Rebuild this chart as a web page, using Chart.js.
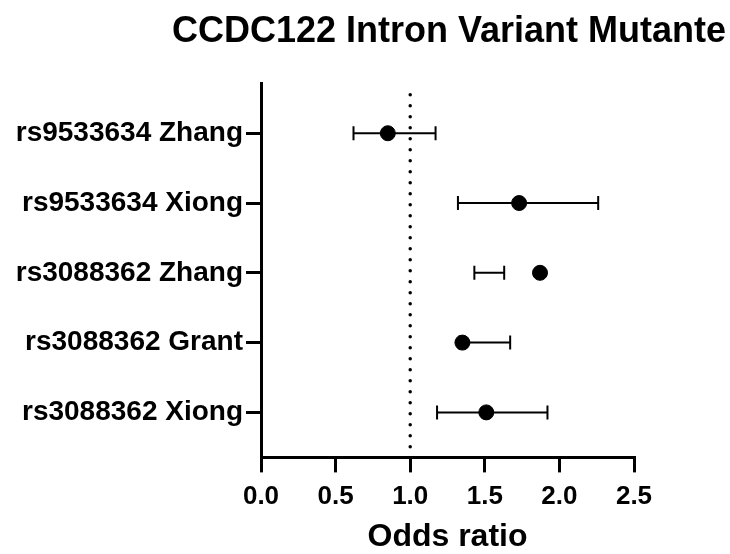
<!DOCTYPE html>
<html>
<head>
<meta charset="utf-8">
<script src="https://cdn.jsdelivr.net/npm/chart.js@4/dist/chart.umd.min.js"></script>
<style>
  body { margin: 0; background: #fff; }
</style>
</head>
<body>
<canvas id="forest_plot" width="730" height="554"></canvas>
<script>
// values
const studies = ["rs9533634 Zhang", "rs9533634 Xiong", "rs3088362 Zhang", "rs3088362 Grant", "rs3088362 Xiong"];
const odds_ratio = [0.85, 1.73, 1.87, 1.35, 1.51];
const ci_low = [0.62, 1.32, 1.43, 1.33, 1.18];
const ci_high = [1.17, 2.26, 1.63, 1.67, 1.92];
const x_ticks = [0.0, 0.5, 1.0, 1.5, 2.0, 2.5];
const ref_line = 1.0;

const font_name = "'Liberation Sans', Arial, sans-serif";

// one small line per row for the whiskers, caps are rotated line points
const whiskers = studies.map((s, i) => ({
    type: "line",
    data: [{x: ci_low[i], y: i}, {x: ci_high[i], y: i}],
    borderColor: "#000",
    borderWidth: 2,
    pointStyle: "line",
    rotation: 90,
    pointRadius: 7,
    pointBorderWidth: 2,
    pointBorderColor: "#000",
}));

const forest_plot = document.getElementById('forest_plot');
const forest_plot1 = new Chart(forest_plot, {
    data: {
        datasets: [{
            type: "line",
            data: [{x: ref_line, y: -0.55}, {x: ref_line, y: 4.645}],
            borderColor: "#000",
            borderWidth: 3.5,
            borderDash: [0, 11],
            borderCapStyle: "round",
            pointRadius: 0,
        },
        ...whiskers,
        {
            type: "scatter",
            data: odds_ratio.map((v, i) => ({x: v, y: i})),
            backgroundColor: "#000",
            borderColor: "#000",
            pointRadius: 7.5,
        }],
    },
    options: {
        responsive: false,
        animation: false,
        layout: { padding: { left: 0, right: 4, top: 0, bottom: 0 } },
        plugins: {
            legend: { display: false },
            tooltip: { enabled: false },
            title: {
                display: true,
                text: "CCDC122 Intron Variant Mutante",
                align: "end",
                color: "#000",
                font: { family: font_name, size: 36, weight: "bold", lineHeight: 1.2 },
                padding: { top: 10, bottom: 30 },
            },
        },
        scales: {
            x: {
                type: "linear",
                min: 0,
                max: 2.5,
                afterBuildTicks: (scale) => { scale.ticks = x_ticks.map(v => ({value: v})); },
                ticks: {
                    color: "#000",
                    padding: 11,
                    font: { family: font_name, size: 26, weight: "bold", lineHeight: 1.0 },
                    callback: (v) => Number(v).toFixed(1),
                },
                grid: { drawOnChartArea: false, color: "#000", lineWidth: 3, tickLength: 15, tickWidth: 3 },
                border: { color: "#000", width: 3 },
                title: {
                    display: true,
                    text: "Odds ratio",
                    color: "#000",
                    font: { family: font_name, size: 32, weight: "bold", lineHeight: 1.05 },
                    padding: { top: 0, bottom: 0 },
                },
            },
            y: {
                type: "linear",
                reverse: true,
                min: -0.717,
                max: 4.645,
                afterBuildTicks: (scale) => { scale.ticks = studies.map((s, i) => ({value: i})); },
                afterFit: (scale) => { scale.width = 261; },
                ticks: {
                    color: "#000",
                    padding: 3,
                    font: { family: font_name, size: 28, weight: "bold" },
                    callback: (v) => studies[v],
                },
                grid: { drawOnChartArea: false, color: "#000", lineWidth: 3, tickLength: 15, tickWidth: 3 },
                border: { color: "#000", width: 3 },
            },
            spacer: {
                type: "linear",
                position: "right",
                ticks: { display: false },
                grid: { display: false },
                border: { display: false },
                afterFit: (scale) => { scale.width = 92; },
            },
        },
    },
});
</script>
</body>
</html>
